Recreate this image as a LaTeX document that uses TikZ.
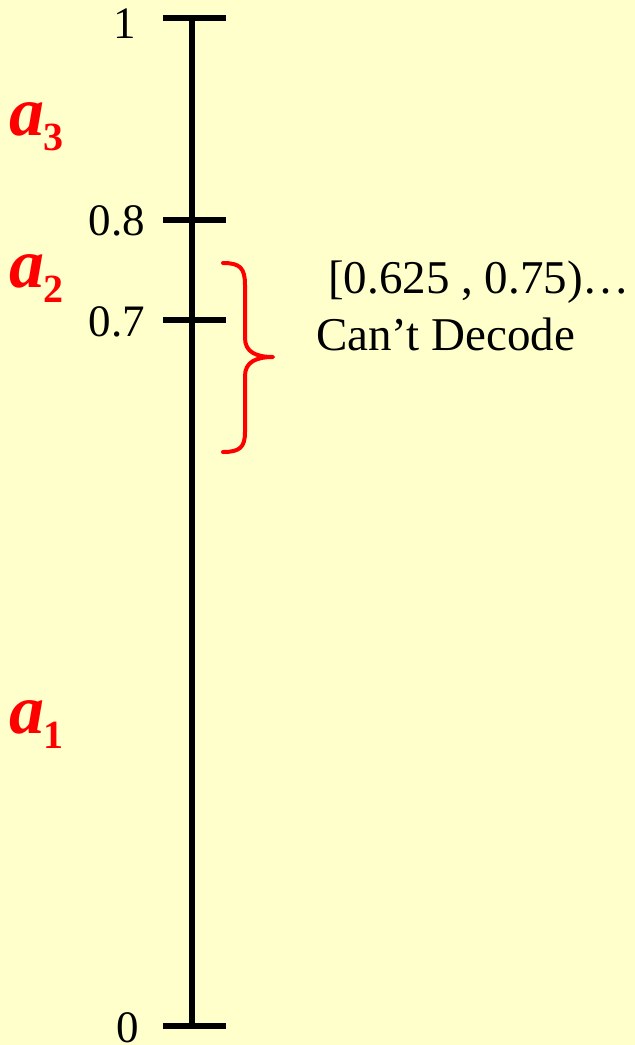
\documentclass[tikz,border=0pt]{standalone}
\usepackage{fontspec}
\setmainfont{Liberation Serif}
\definecolor{bg}{HTML}{FFFFCC}
\definecolor{lred}{HTML}{FF0000}
\tikzset{
  axisline/.style={line width=6pt, black},
  bracestyle/.style={line width=4pt, lred, line cap=round, line join=round},
  numlbl/.style={anchor=base east, inner sep=0pt, font=\fontsize{45}{50}\selectfont},
  symlbl/.style={anchor=base west, inner sep=0pt, text=lred},
  txtlbl/.style={anchor=base west, inner sep=0pt, font=\fontsize{47}{52}\selectfont}
}
\newcommand{\symb}[1]{{\fontsize{70}{76}\selectfont\bfseries\itshape a}\kern-1pt\raisebox{-15pt}{\fontsize{40}{44}\selectfont\bfseries #1}}
\begin{document}
\begin{tikzpicture}[x=1pt,y=-1pt]
\fill[bg] (0,0) rectangle (635,1045);
\useasboundingbox (0,0) rectangle (635,1045);
% axis
\coordinate (top) at (192,18);
\coordinate (bot) at (192,1026);
\draw[axisline] (top) -- (bot);
\coordinate (t1l) at (163,18);   \coordinate (t1r) at (226,18);
\coordinate (t8l) at (163,220);  \coordinate (t8r) at (226,220);
\coordinate (t7l) at (163,320);  \coordinate (t7r) at (226,320);
\coordinate (t0l) at (163,1026); \coordinate (t0r) at (226,1026);
\draw[axisline] (t1l) -- (t1r);
\draw[axisline] (t8l) -- (t8r);
\draw[axisline] (t7l) -- (t7r);
\draw[axisline] (t0l) -- (t0r);
% numbers
\node[numlbl] (n1) at (136,38) {1};
\node[numlbl] (n8) at (145,235) {0.8};
\node[numlbl] (n7) at (145,336) {0.7};
\node[numlbl] (n0) at (139,1042) {0};
% symbols
\node[symlbl] (a3) at (9,135) {\symb{3}};
\node[symlbl] (a2) at (9,287) {\symb{2}};
\node[symlbl] (a1) at (9,733) {\symb{1}};
% brace
\draw[bracestyle] (223,263) .. controls (240,263) and (245,268) .. (245,285)
  -- (245,338) .. controls (245,352) and (256,357) .. (273,357)
  .. controls (256,357) and (245,362) .. (245,376)
  -- (245,432) .. controls (245,447) and (240,452) .. (223,452);
% texts
\node[txtlbl] (rng) at (328,293) {[0.625 , 0.75)…};
\node[txtlbl] (cd) at (316,350) {Can’t Decode};
\end{tikzpicture}
\end{document}
